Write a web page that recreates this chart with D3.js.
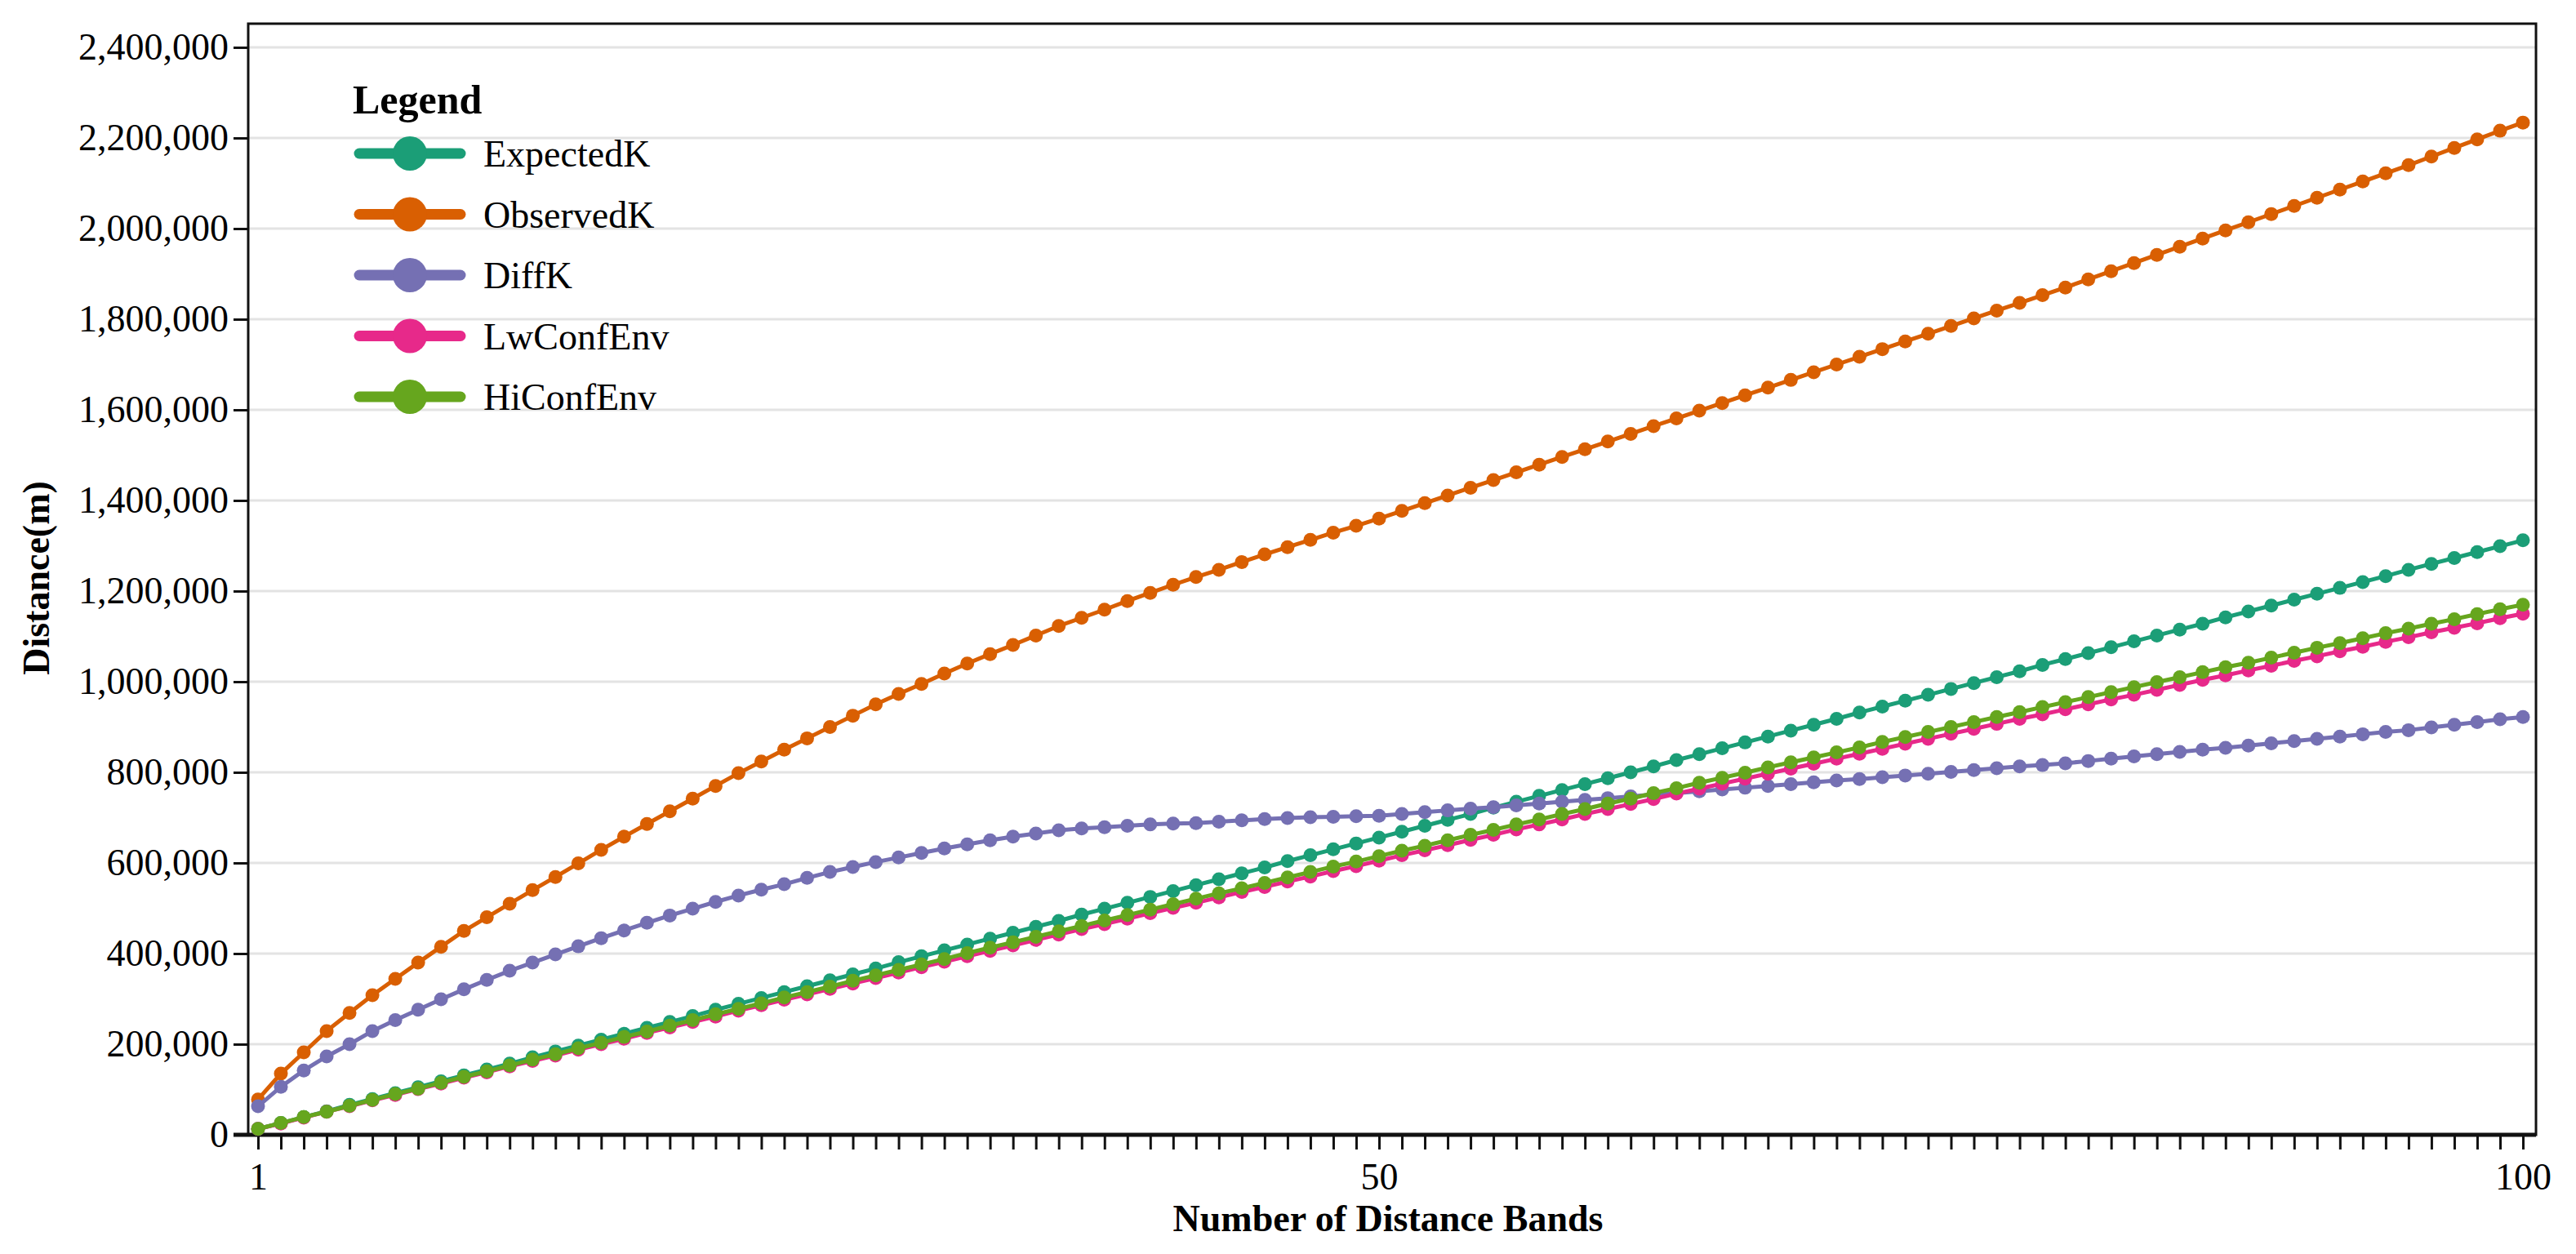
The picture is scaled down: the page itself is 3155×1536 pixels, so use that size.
<!DOCTYPE html>
<html>
<head>
<meta charset="utf-8">
<script src="https://cdnjs.cloudflare.com/ajax/libs/d3/7.8.5/d3.min.js"></script>
<style>
  body { margin: 0; background: #fff; }
  svg text { font-family: "Liberation Serif", "Times New Roman", serif; fill: #000; }
</style>
</head>
<body>
<div id="chart"></div>
<script>
// values in thousands of metres, bands 1..100
var seriesNames = ["ExpectedK", "ObservedK", "DiffK", "LwConfEnv", "HiConfEnv"];
var seriesColors = ["#1b9e77", "#d95f02", "#7570b3", "#e7298a", "#66a61e"];
var yTicks = [0, 200000, 400000, 600000, 800000, 1000000, 1200000, 1400000, 1600000, 1800000, 2000000, 2200000, 2400000];
var xLabels = [1, 50, 100];

var expectedK = [13,26,39,52,66,79,92,105,118,131,144,157,171,184,197,210,223,236,249,262,
  276,289,302,315,328,341,354,367,381,394,407,420,433,446,459,472,486,499,512,525,
  538,551,564,577,590,604,617,630,643,656,669,682,695,708,722,735,748,761,774,787,
  800,813,827,840,853,866,879,892,905,918,932,945,958,971,984,997,1010,1023,1037,1050,
  1063,1076,1089,1102,1115,1128,1142,1155,1168,1181,1194,1207,1220,1233,1247,1260,1273,1286,1299,1312];

var observedK = [78,135,182,229,269,308,344,380,415,450,480,510,540,569,599,629,658,686,714,742,
  770,798,824,850,875,900,925,950,973,995,1018,1040,1061,1081,1102,1123,1141,1159,1178,1196,
  1214,1231,1247,1264,1281,1297,1313,1329,1344,1360,1377,1394,1411,1428,1445,1462,1479,1496,1513,1530,
  1547,1564,1581,1598,1615,1632,1649,1666,1683,1700,1717,1734,1751,1768,1785,1802,1819,1836,1853,1870,
  1888,1906,1924,1942,1960,1978,1996,2014,2032,2050,2068,2086,2104,2122,2140,2159,2178,2197,2216,2234];

var diffK = [63,106,142,173,200,229,253,276,299,321,342,362,380,398,416,434,451,468,484,499,
  514,528,541,553,567,580,591,602,612,622,632,641,650,658,665,672,676,679,682,685,
  687,688,691,694,697,699,701,702,703,704,708,712,716,720,723,727,731,735,739,743,
  747,751,754,758,762,766,770,774,778,782,785,789,793,797,801,805,809,813,816,820,
  825,830,835,840,845,850,854,859,864,869,874,879,884,889,893,899,905,911,917,922];

var lwConfEnv = [13,25,38,51,63,76,88,101,113,126,138,151,163,175,188,200,212,225,237,249,
  261,274,286,298,310,322,334,346,358,370,382,394,406,418,430,442,454,465,477,489,
  501,512,524,536,547,559,570,582,593,605,617,628,639,651,662,674,685,696,708,719,
  730,741,753,764,775,786,797,808,819,830,841,852,863,874,885,896,907,918,928,939,
  950,961,971,982,993,1004,1014,1025,1035,1046,1056,1067,1077,1088,1098,1109,1119,1129,1140,1150];

var hiConfEnv = [13,26,39,51,64,77,90,102,115,128,140,153,166,178,191,203,216,228,241,253,
  266,278,290,303,315,327,340,352,364,376,388,401,413,425,437,449,461,473,485,497,
  509,521,533,544,556,568,580,592,603,615,627,638,650,662,673,685,696,708,719,731,
  742,754,765,777,788,799,811,822,833,844,855,867,878,889,900,911,922,933,944,955,
  966,977,988,999,1010,1021,1032,1042,1053,1064,1075,1085,1096,1107,1117,1128,1138,1149,1160,1170];

var seriesValues = [expectedK, observedK, diffK, lwConfEnv, hiConfEnv];

var W = 3155, H = 1536;
var frame = {left: 304, right: 3106, top: 29, bottom: 1390};

var svg = d3.select("#chart").append("svg")
  .attr("width", W).attr("height", H);

var xScale = d3.scaleLinear().domain([1, 100]).range([316, 3090]);
var yScale = d3.scaleLinear().domain([0, 2400000]).range([frame.bottom, 58]);

//gridlines
svg.append("g").selectAll("line")
  .data(yTicks.slice(1))
  .enter().append("line")
  .attr("x1", frame.left).attr("x2", frame.right)
  .attr("y1", function(d){ return yScale(d); })
  .attr("y2", function(d){ return yScale(d); })
  .attr("stroke", "#e3e3e3").attr("stroke-width", 3);

//frame
svg.append("rect")
  .attr("x", frame.left).attr("y", frame.top)
  .attr("width", frame.right - frame.left).attr("height", frame.bottom - frame.top)
  .attr("fill", "none").attr("stroke", "#111").attr("stroke-width", 3);

//y axis
var yAxis = svg.append("g")
  .attr("transform", "translate(" + frame.left + ",0)")
  .call(d3.axisLeft(yScale).tickValues(yTicks).tickSize(18).tickPadding(6).tickFormat(d3.format(",")));
yAxis.select(".domain").remove();
yAxis.selectAll("line").attr("stroke", "#111").attr("stroke-width", 3);
yAxis.selectAll("text").style("font-size", "46px").style("font-family", "Liberation Serif");

//x axis
var xAxis = svg.append("g")
  .attr("transform", "translate(0," + frame.bottom + ")")
  .call(d3.axisBottom(xScale).tickValues(d3.range(1, 101)).tickSize(18).tickPadding(16)
    .tickFormat(function(d){ return xLabels.indexOf(d) >= 0 ? d : ""; }));
xAxis.select(".domain").attr("stroke", "#111").attr("stroke-width", 5)
  .attr("d", "M" + (frame.left - 18) + ",0H" + frame.right);
xAxis.selectAll("line").attr("stroke", "#111").attr("stroke-width", 3);
xAxis.selectAll("text").style("font-size", "46px").style("font-family", "Liberation Serif");

//axis titles
svg.append("text")
  .attr("x", 1700).attr("y", 1508)
  .attr("text-anchor", "middle")
  .style("font-size", "46px").style("font-weight", "bold")
  .text("Number of Distance Bands");

svg.append("text")
  .attr("transform", "translate(60,708) rotate(-90)")
  .attr("text-anchor", "middle")
  .style("font-size", "46px").style("font-weight", "bold")
  .text("Distance(m)");

//series
var line = d3.line()
  .x(function(d, i){ return xScale(i + 1); })
  .y(function(d){ return yScale(d * 1000); });

seriesValues.forEach(function(vals, s){
  var g = svg.append("g");
  g.append("path")
    .datum(vals)
    .attr("d", line)
    .attr("fill", "none")
    .attr("stroke", seriesColors[s])
    .attr("stroke-width", 5);
  g.selectAll("circle")
    .data(vals)
    .enter().append("circle")
    .attr("cx", function(d, i){ return xScale(i + 1); })
    .attr("cy", function(d){ return yScale(d * 1000); })
    .attr("r", 8.5)
    .attr("fill", seriesColors[s]);
});

//legend
var legend = svg.append("g");
legend.append("text")
  .attr("x", 432).attr("y", 139)
  .style("font-size", "50px").style("font-weight", "bold")
  .text("Legend");

var items = legend.selectAll(".item")
  .data(seriesNames)
  .enter().append("g")
  .attr("transform", function(d, i){ return "translate(0," + (188 + i * 74.5) + ")"; });
items.append("line")
  .attr("x1", 440).attr("x2", 564)
  .attr("stroke", function(d, i){ return seriesColors[i]; })
  .attr("stroke-width", 13).attr("stroke-linecap", "round");
items.append("circle")
  .attr("cx", 502).attr("r", 21)
  .attr("fill", function(d, i){ return seriesColors[i]; });
items.append("text")
  .attr("x", 592).attr("y", 16)
  .style("font-size", "46px")
  .text(function(d){ return d; });
</script>
</body>
</html>
